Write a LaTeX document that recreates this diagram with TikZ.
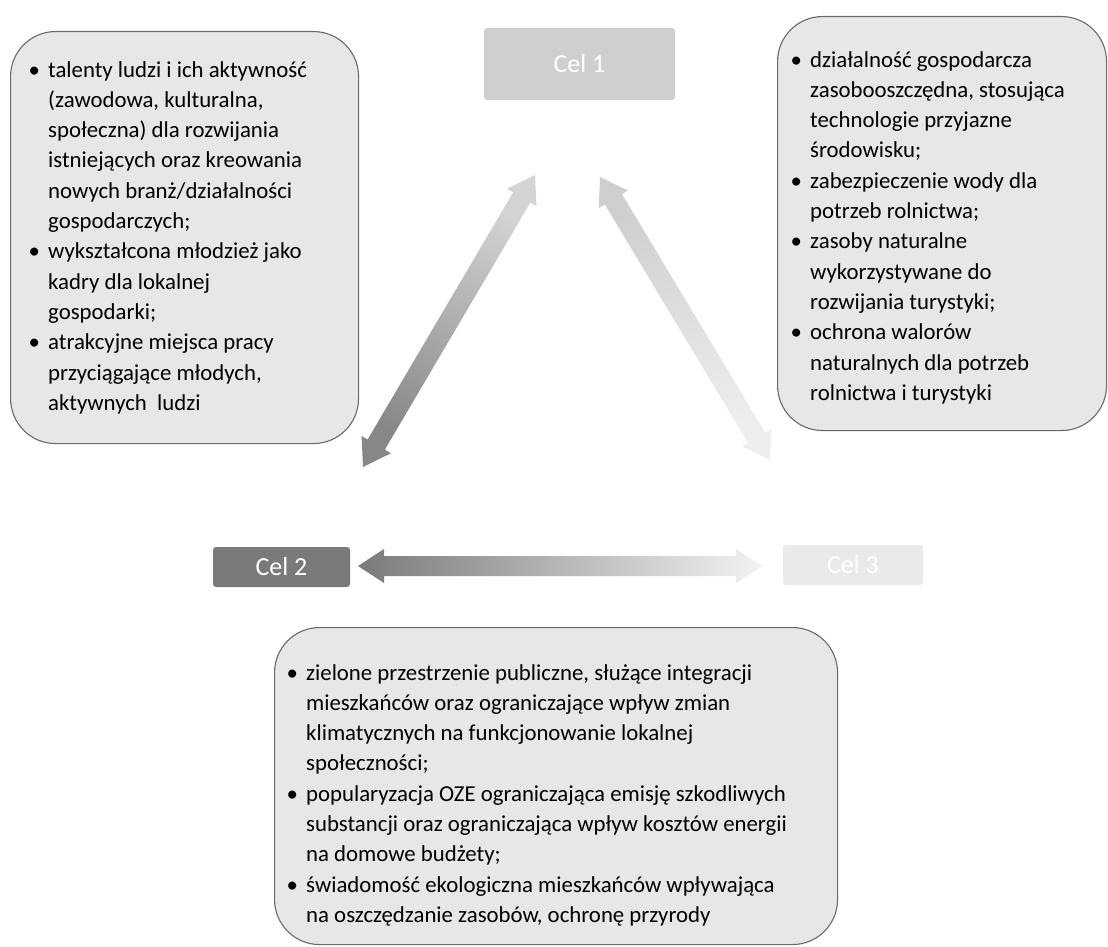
\documentclass[tikz,border=0pt]{standalone}
\usepackage{fontspec}
\setmainfont{Carlito}
\usetikzlibrary{calc}
\definecolor{celone}{HTML}{CFCFCF}
\definecolor{celtwo}{HTML}{7A7A7A}
\definecolor{celthree}{HTML}{EAEAEA}
\definecolor{boxfill}{HTML}{E7E7E7}
\definecolor{boxline}{HTML}{6A6A6A}
\newcommand{\blockarrow}[3]{%
  \path ($(#1)!26pt!(#2)$) coordinate (#1-h) ($(#2)!26pt!(#1)$) coordinate (#2-h);
  \path[#3] (#1) -- ($(#1-h)!17pt!90:(#2)$) -- ($(#1-h)!10pt!90:(#2)$)
    -- ($(#2-h)!10pt!-90:(#1)$) -- ($(#2-h)!17pt!-90:(#1)$) -- (#2)
    -- ($(#2-h)!17pt!90:(#1)$) -- ($(#2-h)!10pt!90:(#1)$)
    -- ($(#1-h)!10pt!-90:(#2)$) -- ($(#1-h)!17pt!-90:(#2)$) -- cycle;
}
\tikzset{
  celbox/.style={rectangle, rounded corners=3pt, text=white, inner sep=0pt,
    font=\fontsize{26pt}{30pt}\selectfont},
  roundbox/.style={rectangle, draw=boxline, line width=1.1pt, fill=boxfill,
    rounded corners=45pt, anchor=north west, inner sep=0pt},
  listtext/.style={anchor=north west, inner sep=0pt, align=left,
    font=\fontsize{22.8pt}{30.3pt}\selectfont},
}
\newcommand{\bul}{\makebox[8pt][c]{\textbullet}}
\newenvironment{blist}{\begin{tabular}{@{}l@{\hspace{10pt}}l@{}}}{\end{tabular}}
\begin{document}
\begin{tikzpicture}[x=1pt,y=-1pt]
\useasboundingbox (0,0) rectangle (1108,947);
\fill[white] (0,0) rectangle (1108,947);

% rounded boxes
\node[roundbox, minimum width=348pt, minimum height=412pt] (leftbox) at (10,31) {};
\node[roundbox, minimum width=329pt, minimum height=414pt] (rightbox) at (777,16) {};
\node[roundbox, minimum width=563pt, minimum height=317pt] (bottombox) at (274,627) {};

\node[listtext] (lefttext) at (30,55.6) {\begin{blist}
\bul & talenty ludzi i ich aktywność\\
 & (zawodowa, kulturalna,\\
 & społeczna) dla rozwijania\\
 & istniejących oraz kreowania\\
 & nowych branż/działalności\\
 & gospodarczych;\\
\bul & wykształcona młodzież jako\\
 & kadry dla lokalnej\\
 & gospodarki;\\
\bul & atrakcyjne miejsca pracy\\
 & przyciągające młodych,\\
 & aktywnych\ \ ludzi
\end{blist}};

\node[listtext] (righttext) at (792,45.6) {\begin{blist}
\bul & działalność gospodarcza\\
 & zasobooszczędna, stosująca\\
 & technologie przyjazne\\
 & środowisku;\\
\bul & zabezpieczenie wody dla\\
 & potrzeb rolnictwa;\\
\bul & zasoby naturalne\\
 & wykorzystywane do\\
 & rozwijania turystyki;\\
\bul & ochrona walorów\\
 & naturalnych dla potrzeb\\
 & rolnictwa i turystyki
\end{blist}};

\node[listtext] (bottomtext) at (288,658.6) {\begin{blist}
\bul & zielone przestrzenie publiczne, służące integracji\\
 & mieszkańców oraz ograniczające wpływ zmian\\
 & klimatycznych na funkcjonowanie lokalnej\\
 & społeczności;\\
\bul & popularyzacja OZE ograniczająca emisję szkodliwych\\
 & substancji oraz ograniczająca wpływ kosztów energii\\
 & na domowe budżety;\\
\bul & świadomość ekologiczna mieszkańców wpływająca\\
 & na oszczędzanie zasobów, ochronę przyrody
\end{blist}};

% goal boxes
\node[celbox, fill=celone, minimum width=191pt, minimum height=72pt] (cel1) at (579.5,64) {Cel 1};
\node[celbox, fill=celtwo, minimum width=137pt, minimum height=40pt] (cel2) at (281.5,567) {Cel 2};
\node[celbox, fill=celthree, minimum width=140pt, minimum height=40pt] (cel3) at (853,565) {Cel 3};

% arrows
\coordinate (latop) at (535,175);
\coordinate (labot) at (363,467);
\coordinate (ratop) at (600,177);
\coordinate (rabot) at (770,460);
\coordinate (hal) at (358,566);
\coordinate (har) at (762,566);
\blockarrow{labot}{latop}{shade, top color=celone!90!white, bottom color=celtwo!90!white, shading angle=-30.5}
\blockarrow{ratop}{rabot}{shade, top color=celone, bottom color=celthree!80!white, shading angle=31}
\blockarrow{hal}{har}{shade, left color=celtwo, right color=celthree!60!white}
\end{tikzpicture}
\end{document}
